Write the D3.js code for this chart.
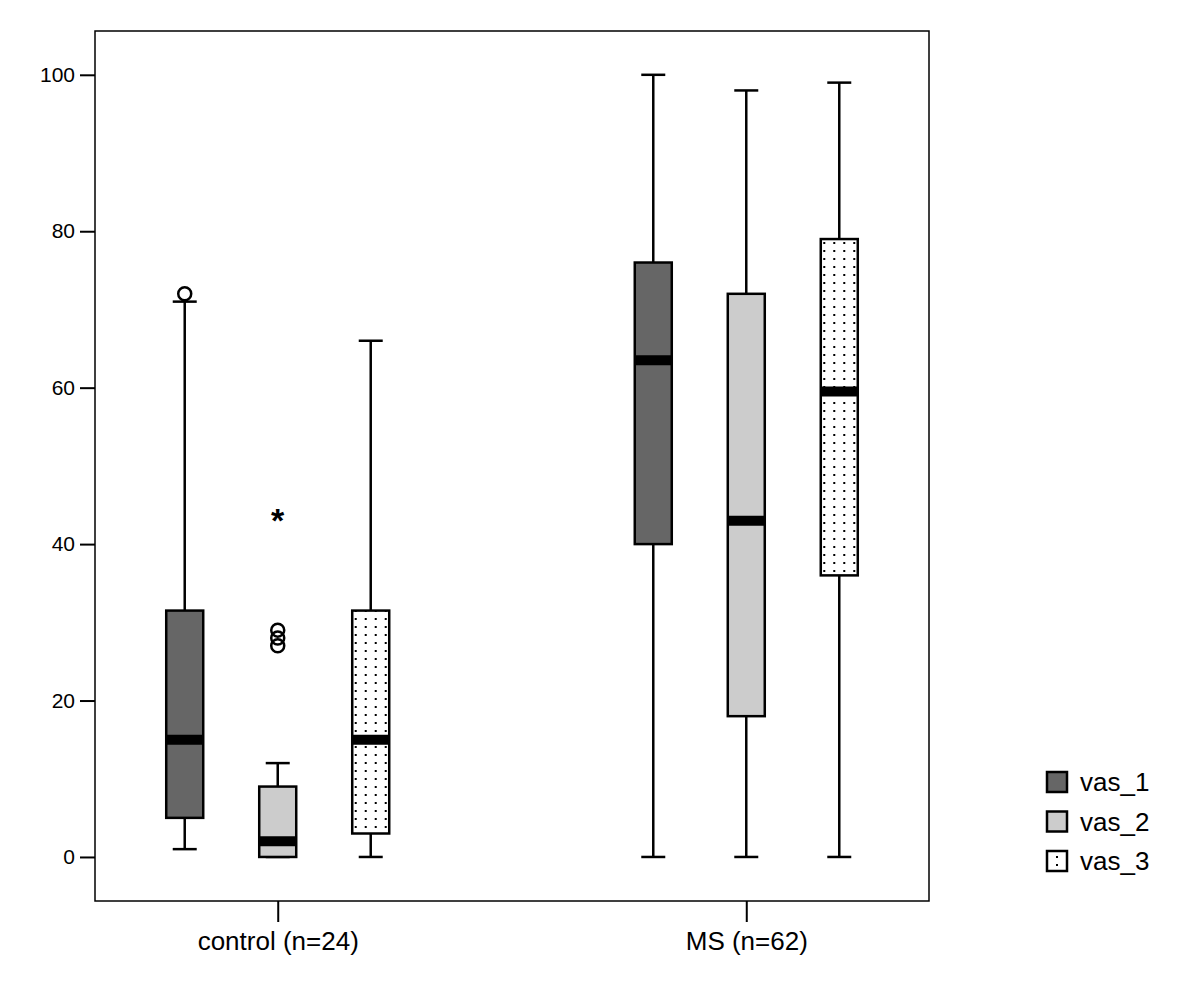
<!DOCTYPE html>
<html>
<head>
<meta charset="utf-8">
<script src="https://cdn.jsdelivr.net/npm/d3@7/dist/d3.min.js"></script>
<style>
	body { margin: 0; background: #fff; }
	text { font-family: Arial, "Liberation Sans", sans-serif; }
</style>
</head>
<body>
<div id="chart"></div>
<script>
	// groups and series
	var groups = ["control (n=24)", "MS (n=62)"];
	var series = ["vas_1", "vas_2", "vas_3"];
	var yTicks = [0, 20, 40, 60, 80, 100];

	// box stats per group, in series order: [low, q1, median, q3, high]
	var controlStats = [[1, 5, 15, 31.5, 71], [0, 0, 2, 9, 12], [0, 3, 15, 31.5, 66]];
	var msStats = [[0, 40, 63.5, 76, 100], [0, 18, 43, 72, 98], [0, 36, 59.5, 79, 99]];

	// outliers: [group, series, value]
	var circleOutliers = [[0, 0, 72], [0, 1, 27], [0, 1, 28], [0, 1, 29]];
	var starOutliers = [[0, 1, 44]];

	var fills = ["#666666", "#cccccc", "url(#dots)"];

	var width = 1200, height = 1003;
	var margin = {top: 31, right: 271, bottom: 102, left: 95};
	var plotW = width - margin.left - margin.right,
		plotH = height - margin.top - margin.bottom;

	var svg = d3.select("#chart").append("svg")
		.attr("width", width)
		.attr("height", height);

	var defs = svg.append("defs");
	var pat = defs.append("pattern")
		.attr("id", "dots")
		.attr("patternUnits", "userSpaceOnUse")
		.attr("width", 10).attr("height", 8);
	pat.append("rect").attr("width", 10).attr("height", 8).attr("fill", "#fff");
	pat.append("rect").attr("x", 4).attr("y", 3).attr("width", 2).attr("height", 2).attr("fill", "#000");

	var g = svg.append("g")
		.attr("transform", "translate(" + margin.left + "," + margin.top + ")");

	var x = d3.scalePoint().domain(groups).range([0, plotW]).padding(0.39);
	var xs = d3.scalePoint().domain(series).range([-93, 93]);
	var y = d3.scaleLinear().domain([-5.63, 105.6]).range([plotH, 0]);

	var boxW = 37, capW = 24;

	// frame
	g.append("rect")
		.attr("width", plotW).attr("height", plotH)
		.attr("fill", "none").attr("stroke", "#000").attr("stroke-width", 1.5);

	// y axis
	var yAxis = g.append("g")
		.call(d3.axisLeft(y).tickValues(yTicks).tickSize(15).tickPadding(5));
	yAxis.select(".domain").remove();
	yAxis.selectAll("line").attr("stroke-width", 2);
	yAxis.selectAll("text").attr("font-size", 21).attr("fill", "#000");

	// x axis
	var xAxis = g.append("g")
		.attr("transform", "translate(0," + plotH + ")")
		.call(d3.axisBottom(x).tickSize(21).tickPadding(10));
	xAxis.select(".domain").remove();
	xAxis.selectAll("line").attr("stroke-width", 2);
	xAxis.selectAll("text").attr("font-size", 26).attr("fill", "#000");

	var allStats = [controlStats, msStats];
	var boxes = [];
	allStats.forEach(function(stats, gi) {
		stats.forEach(function(s, si) {
			boxes.push({group: groups[gi], series: series[si], si: si, s: s});
		});
	});

	var bg = g.selectAll(".box").data(boxes).enter().append("g")
		.attr("class", "box")
		.attr("transform", function(d) { return "translate(" + (x(d.group) + xs(d.series)) + ",0)"; });

	// whiskers
	bg.append("line")
		.attr("x1", 0).attr("x2", 0)
		.attr("y1", function(d) { return y(d.s[0]); })
		.attr("y2", function(d) { return y(d.s[4]); })
		.attr("stroke", "#000").attr("stroke-width", 2.5);
	bg.selectAll(".cap").data(function(d) { return [d.s[0], d.s[4]]; }).enter().append("line")
		.attr("x1", -capW / 2).attr("x2", capW / 2)
		.attr("y1", function(v) { return y(v); })
		.attr("y2", function(v) { return y(v); })
		.attr("stroke", "#000").attr("stroke-width", 2.5);

	// box
	bg.append("rect")
		.attr("x", -boxW / 2)
		.attr("width", boxW)
		.attr("y", function(d) { return y(d.s[3]); })
		.attr("height", function(d) { return Math.max(0, y(d.s[1]) - y(d.s[3])); })
		.attr("fill", function(d) { return fills[d.si]; })
		.attr("stroke", "#000").attr("stroke-width", 2.5);

	// median
	bg.append("line")
		.attr("x1", -boxW / 2).attr("x2", boxW / 2)
		.attr("y1", function(d) { return y(d.s[2]); })
		.attr("y2", function(d) { return y(d.s[2]); })
		.attr("stroke", "#000").attr("stroke-width", 10);

	// outliers
	g.selectAll(".out").data(circleOutliers).enter().append("circle")
		.attr("cx", function(d) { return x(groups[d[0]]) + xs(series[d[1]]); })
		.attr("cy", function(d) { return y(d[2]); })
		.attr("r", 6.5)
		.attr("fill", "none").attr("stroke", "#000").attr("stroke-width", 2.5);

	g.selectAll(".star").data(starOutliers).enter().append("text")
		.attr("x", function(d) { return x(groups[d[0]]) + xs(series[d[1]]); })
		.attr("y", function(d) { return y(d[2]); })
		.attr("dy", "0.55em")
		.attr("text-anchor", "middle")
		.attr("font-size", 34).attr("font-weight", "bold")
		.text("*");

	// legend
	var lg = svg.append("g").attr("transform", "translate(1047,772)");
	var li = lg.selectAll(".leg").data(series).enter().append("g")
		.attr("transform", function(d, i) { return "translate(0," + (i * 39.5) + ")"; });
	li.append("rect")
		.attr("width", 20).attr("height", 20)
		.attr("fill", function(d, i) { return i == 2 ? "#fff" : fills[i]; })
		.attr("stroke", "#000").attr("stroke-width", 2.5);
	li.filter(function(d, i) { return i == 2; }).selectAll(".dot").data([[10, 6], [10, 14]]).enter().append("rect")
		.attr("x", function(p) { return p[0] - 1; }).attr("y", function(p) { return p[1] - 1; })
		.attr("width", 2).attr("height", 2).attr("fill", "#000");
	li.append("text")
		.attr("x", 33).attr("y", 10).attr("dy", "0.36em")
		.attr("font-size", 26)
		.text(function(d) { return d; });
</script>
</body>
</html>
